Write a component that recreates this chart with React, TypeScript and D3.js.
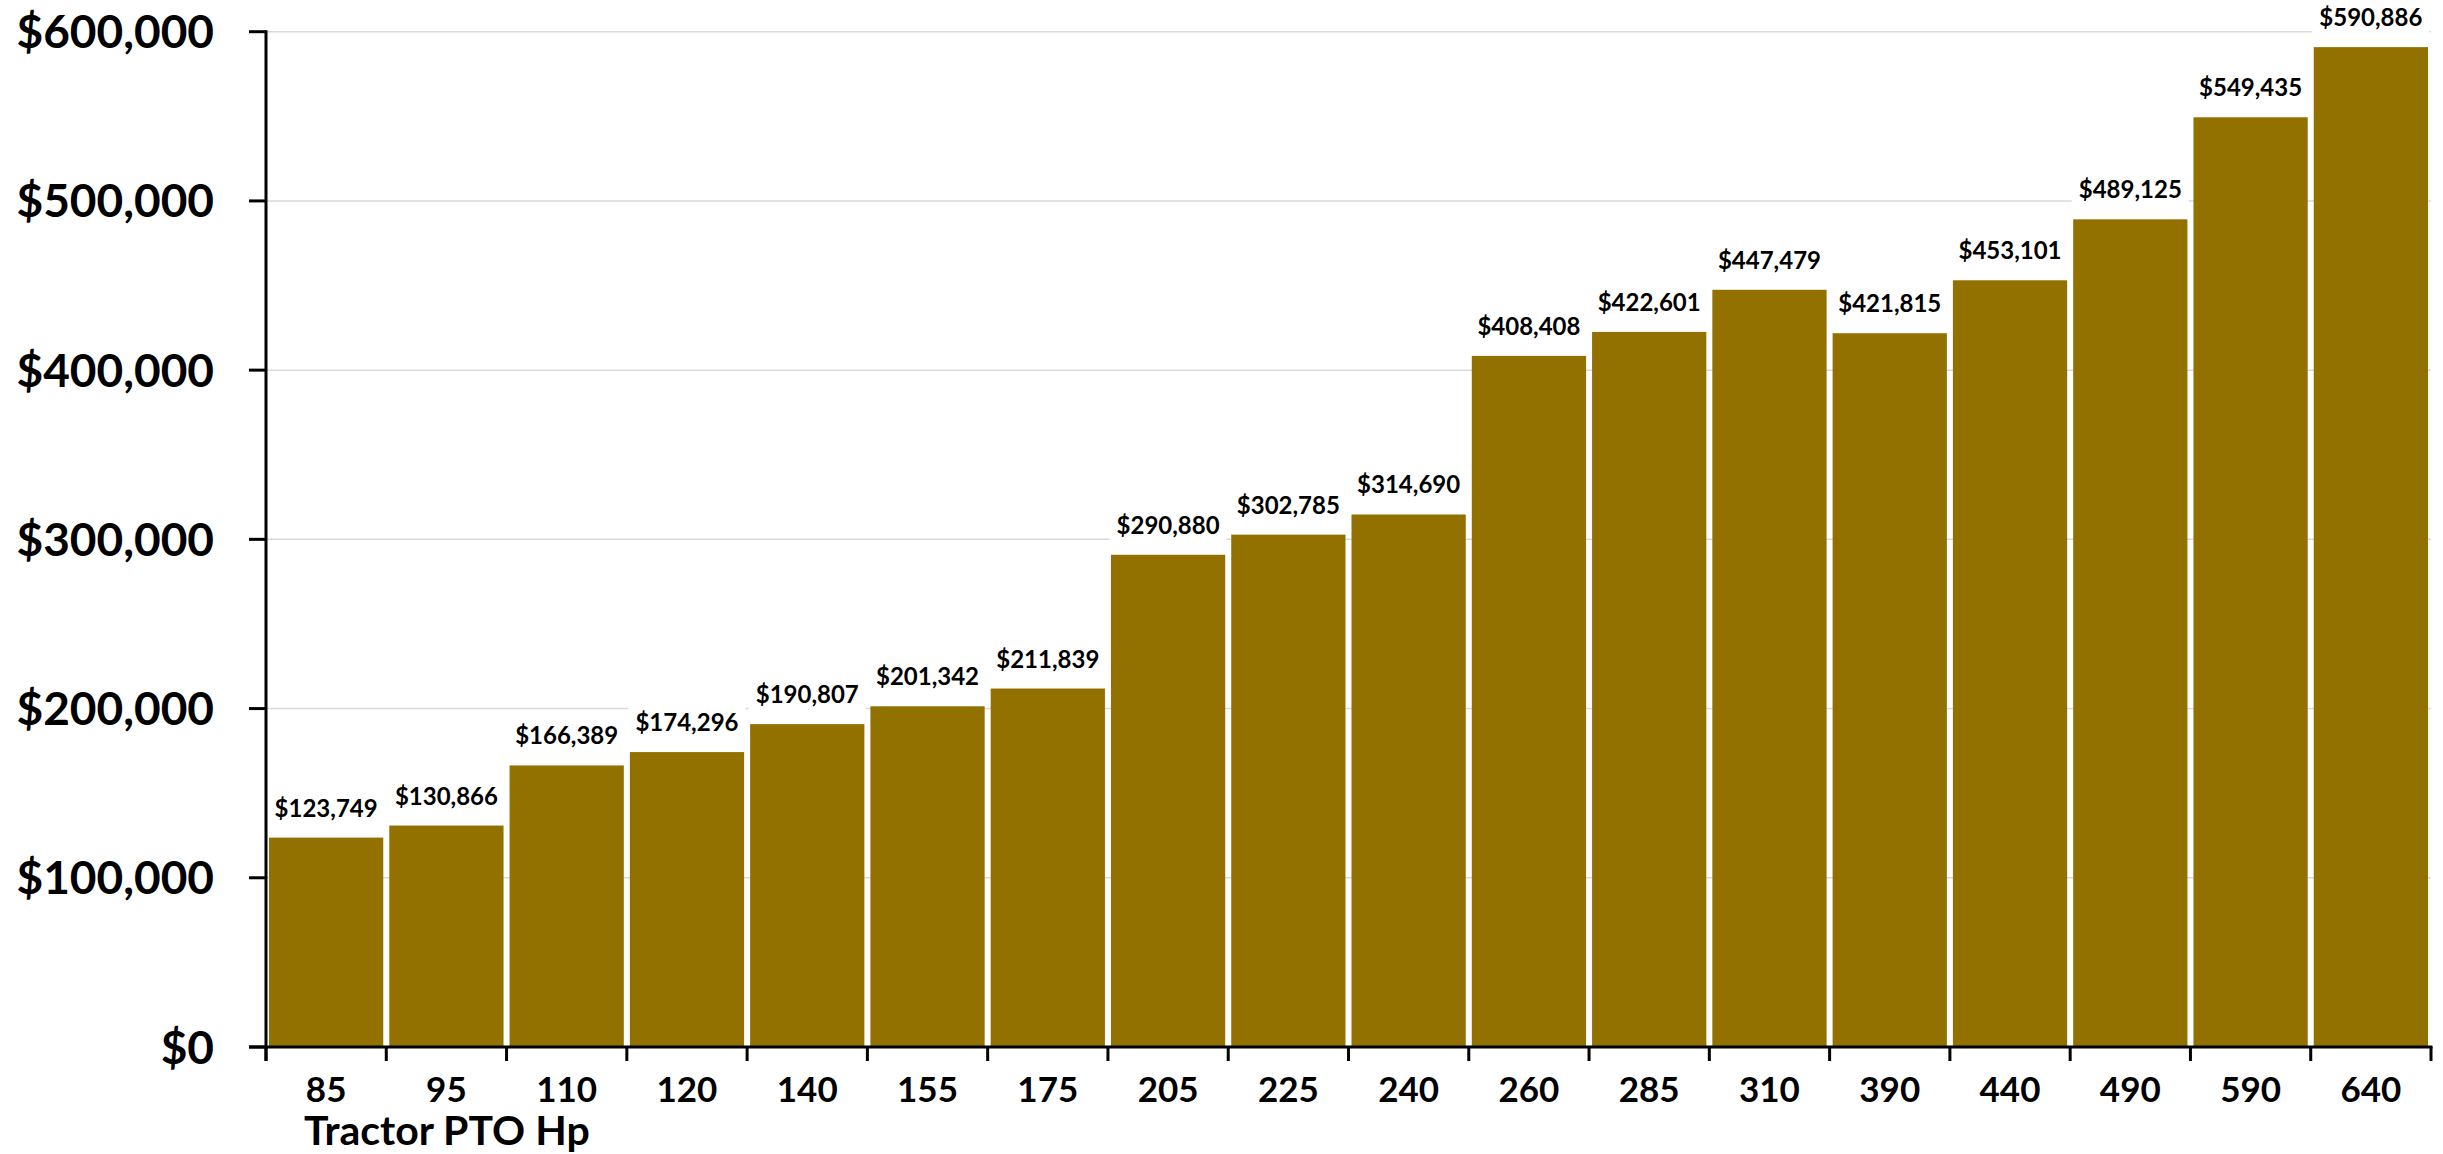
import { useEffect, useRef } from "react";
import * as d3 from "d3";

const hpClasses = ["85", "95", "110", "120", "140", "155", "175", "205", "225", "240", "260", "285", "310", "390", "440", "490", "590", "640"];
const costs = [123749, 130866, 166389, 174296, 190807, 201342, 211839, 290880, 302785, 314690, 408408, 422601, 447479, 421815, 453101, 489125, 549435, 590886];
const yTicks = [0, 100000, 200000, 300000, 400000, 500000, 600000];
const xTitle = "Tractor PTO Hp";

const W = 2443;
const H = 1154;
const FONT = "Lato, 'Open Sans', sans-serif";
const BAR = "#937100";

export default function App() {
  const svgRef = useRef<SVGSVGElement | null>(null);

  useEffect(() => {
    if (!svgRef.current) return;
    const svg = d3.select(svgRef.current);
    svg.selectAll("*").remove();

    const left = 266;
    const right = 2431;
    const bottom = 1047;
    const top = 31.7;

    const x = d3.scaleBand<string>().domain(hpClasses).range([left, right]).paddingInner(0.05).paddingOuter(0.025);
    const y = d3.scaleLinear().domain([0, 600000]).range([bottom, top]);
    const step = x.step();
    const fmt = (v: number) => "$" + d3.format(",")(v);

    // gridlines
    svg
      .append("g")
      .selectAll("line")
      .data(yTicks.slice(1))
      .join("line")
      .attr("x1", left)
      .attr("x2", right)
      .attr("y1", (d) => y(d))
      .attr("y2", (d) => y(d))
      .attr("stroke", "#d9d9d9")
      .attr("stroke-width", 1.5);

    const data = hpClasses.map((hp, i) => ({ hp, v: costs[i] }));

    // bars
    svg
      .append("g")
      .selectAll("rect")
      .data(data)
      .join("rect")
      .attr("x", (d) => x(d.hp)!)
      .attr("y", (d) => y(d.v))
      .attr("width", x.bandwidth())
      .attr("height", (d) => bottom - y(d.v))
      .attr("fill", BAR);

    // data labels, white box hides the gridline behind them
    const labels = svg.append("g");
    data.forEach((d) => {
      const cx = x(d.hp)! + x.bandwidth() / 2;
      const by = y(d.v) - 21;
      const box = labels.append("rect").attr("fill", "#fff");
      const t = labels
        .append("text")
        .attr("x", cx)
        .attr("y", by)
        .attr("text-anchor", "middle")
        .attr("font-family", FONT)
        .attr("font-weight", 700)
        .attr("font-size", 24)
        .attr("fill", "#000")
        .text(fmt(d.v));
      const bb = (t.node() as SVGTextElement).getBBox();
      box
        .attr("x", bb.x - 7)
        .attr("y", bb.y - 4)
        .attr("width", bb.width + 14)
        .attr("height", bb.height + 8);
    });

    const axis = svg.append("g").attr("stroke", "#000").attr("stroke-width", 3);

    // y axis
    axis.append("line").attr("x1", left).attr("x2", left).attr("y1", top - 1.5).attr("y2", bottom + 14);
    axis
      .selectAll(".ytick")
      .data(yTicks)
      .join("line")
      .attr("class", "ytick")
      .attr("x1", left - 17)
      .attr("x2", left)
      .attr("y1", (d) => y(d))
      .attr("y2", (d) => y(d));

    // x axis, ticks sit on the category boundaries
    axis.append("line").attr("x1", left - 17).attr("x2", right + 1.5).attr("y1", bottom).attr("y2", bottom);
    axis
      .selectAll(".xtick")
      .data(d3.range(hpClasses.length + 1))
      .join("line")
      .attr("class", "xtick")
      .attr("x1", (i) => left + i * step)
      .attr("x2", (i) => left + i * step)
      .attr("y1", bottom)
      .attr("y2", bottom + 14);

    // y tick labels
    svg
      .append("g")
      .selectAll("text")
      .data(yTicks)
      .join("text")
      .attr("x", 214)
      .attr("y", (d) => y(d))
      .attr("dy", "0.36em")
      .attr("text-anchor", "end")
      .attr("font-family", FONT)
      .attr("font-weight", 700)
      .attr("font-size", 46)
      .attr("fill", "#000")
      .text((d) => fmt(d));

    // x tick labels
    svg
      .append("g")
      .selectAll("text")
      .data(hpClasses)
      .join("text")
      .attr("x", (d) => x(d)! + x.bandwidth() / 2)
      .attr("y", 1102)
      .attr("text-anchor", "middle")
      .attr("font-family", FONT)
      .attr("font-weight", 700)
      .attr("font-size", 35)
      .attr("fill", "#000")
      .text((d) => d);

    svg
      .append("text")
      .attr("x", 304)
      .attr("y", 1145)
      .attr("font-family", FONT)
      .attr("font-weight", 700)
      .attr("font-size", 41)
      .attr("fill", "#000")
      .text(xTitle);
  }, []);

  return (
    <svg
      ref={svgRef}
      width={W}
      height={H}
      style={{ position: "absolute", left: 0, top: 0, background: "#fff" }}
    />
  );
}
